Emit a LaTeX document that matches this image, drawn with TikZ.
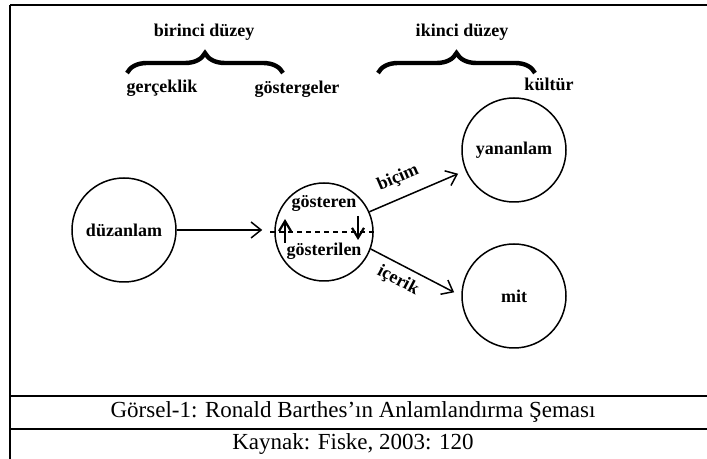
\documentclass[tikz,border=0pt]{standalone}
\usepackage{fontspec}
\setmainfont{Liberation Serif}
\usetikzlibrary{arrows.meta,decorations.pathreplacing}

\begin{document}
\begin{tikzpicture}[x=0.5pt,y=-0.5pt,line width=0.75pt]
\tikzstyle word=[font=\bfseries\fontsize{9}{11}\selectfont]
\tikzstyle circ=[draw,circle,inner sep=0pt,word]
\tikzstyle arrowstyle=[-{Straight Barb[length=5pt,width=8pt]}]
\tikzstyle smallarrow=[-{Straight Barb[length=5pt,width=6pt]},line width=1.1pt]
\tikzstyle levelbrace=[decorate,decoration={brace,amplitude=10pt},line width=2.2pt]
\tikzstyle caption=[font=\fontsize{11.5}{13}\selectfont]
 \useasboundingbox (0,0) rectangle (707,459);
 % frame and caption rows
 \begin{scope}[line width=1pt]
  \draw (10,5) -- (707,5);
  \draw (10,5) -- (10,459);
  \draw (10,396) -- (707,396);
  \draw (10,429) -- (707,429);
 \end{scope}
 \node[caption] (title) at (353,412) {Görsel-1: Ronald Barthes’ın Anlamlandırma Şeması};
 \node[caption] (source) at (353,444) {Kaynak: Fiske, 2003: 120};
 % levels
 \node[word] (first) at (204,32) {birinci düzey};
 \node[word] (second) at (462,32) {ikinci düzey};
 \coordinate (b1l) at (127,73);
 \coordinate (b1r) at (283,73);
 \coordinate (b2l) at (378,73);
 \coordinate (b2r) at (535,73);
 \draw[levelbrace] (b1l) -- (b1r);
 \draw[levelbrace] (b2l) -- (b2r);
 \node[word] (reality) at (162,88) {gerçeklik};
 \node[word] (signs) at (297,89) {göstergeler};
 \node[word] (culture) at (549,84) {kültür};
 % circles
 \node[circ,minimum size=52pt] (duz) at (124,230) {düzanlam};
 \node[circ,minimum size=49pt] (sign) at (324,232) {};
 \node[circ,minimum size=52pt] (yan) at (514,150) {yananlam};
 \node[circ,minimum size=52pt] (mit) at (514,296) {mit};
 \node[word] (signifier) at (324,203) {gösteren};
 \node[word] (signified) at (324,251) {gösterilen};
 % inside the sign
 \draw[dashed,line width=0.6pt,dash pattern=on 2.5pt off 2pt]
   ([xshift=-2pt]sign.west) -- ([xshift=2pt]sign.east);
 \coordinate (up0) at (285,243);
 \coordinate (up1) at (285,219);
 \coordinate (dn0) at (358,216);
 \coordinate (dn1) at (358,240);
 \draw[smallarrow] (up0) -- (up1);
 \draw[smallarrow] (dn0) -- (dn1);
 % arrows
 \draw[arrowstyle,shorten >=6pt] (duz.east) -- (duz.east -| sign.west);
 \draw[arrowstyle,shorten >=4pt] (sign.24) -- (yan.203)
   node[word,pos=0.38,above=2pt,sloped] {biçim};
 \draw[arrowstyle,shorten >=4pt] (sign.-20) -- (mit.west)
   node[word,pos=0.38,below,sloped] {içerik};
\end{tikzpicture}
\end{document}
